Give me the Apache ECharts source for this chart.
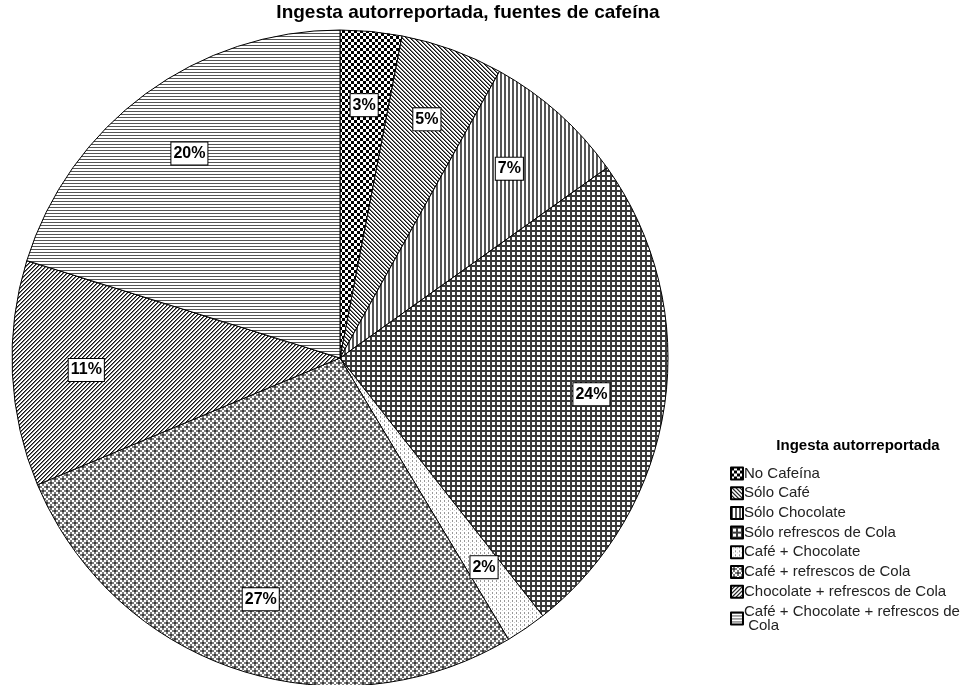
<!DOCTYPE html>
<html>
<head>
<meta charset="utf-8">
<script src="https://cdn.jsdelivr.net/npm/echarts@6/dist/echarts.min.js"></script>
<style>
  html, body { margin: 0; padding: 0; background: #fff; }
  #chart { width: 970px; height: 685px; }
</style>
</head>
<body>
<div id="chart"></div>
<script>
// Self-reported caffeine sources (percent of respondents)
const categories = [
  'No Cafeína',
  'Sólo Café',
  'Sólo Chocolate',
  'Sólo refrescos de Cola',
  'Café + Chocolate',
  'Café + refrescos de Cola',
  'Chocolate + refrescos de Cola',
  'Café + Chocolate + refrescos de Cola'
];
const percents = [3, 5, 7, 24, 2, 27, 11, 20];

const chartTitle = 'Ingesta autorreportada, fuentes de cafeína';
const legendTitle = 'Ingesta autorreportada';

// Monochrome hatch fills, one per category
function pattern(w, h, draw) {
  const c = document.createElement('canvas');
  c.width = w; c.height = h;
  const ctx = c.getContext('2d');
  ctx.fillStyle = '#fff';
  ctx.fillRect(0, 0, w, h);
  draw(ctx);
  return { image: c, repeat: 'repeat' };
}

// wrapped pixel write inside a tile
function px(ctx, x, y, w, h, size) {
  for (let i = 0; i < w; i++) {
    for (let j = 0; j < h; j++) {
      ctx.fillRect((x + i) % size, (y + j) % size, 1, 1);
    }
  }
}

function plusSign(ctx, x, y, size) {
  ctx.fillStyle = '#7a7a7a';
  px(ctx, x, y + 2, 6, 2, size);
  px(ctx, x + 2, y, 2, 6, size);
  ctx.fillStyle = '#3c3c3c';
  px(ctx, x + 2, y + 2, 2, 2, size);
}

const fills = [
  // checkerboard
  pattern(6, 6, ctx => {
    ctx.fillStyle = '#000';
    ctx.fillRect(0, 0, 3, 3);
    ctx.fillRect(3, 3, 3, 3);
  }),
  // back-diagonal lines
  pattern(4, 4, ctx => {
    for (let i = 0; i < 4; i++) {
      ctx.fillStyle = '#111';
      ctx.fillRect(i, i, 1, 1);
      ctx.fillStyle = '#777';
      ctx.fillRect((i + 1) % 4, i, 1, 1);
    }
  }),
  // vertical lines
  pattern(4, 4, ctx => {
    ctx.fillStyle = '#555';
    ctx.fillRect(0, 0, 2, 4);
  }),
  // dense grid
  pattern(5, 5, ctx => {
    ctx.fillStyle = '#3a3a3a';
    ctx.fillRect(0, 0, 5, 2);
    ctx.fillRect(0, 0, 2, 5);
  }),
  // sparse dashes
  pattern(4, 4, ctx => {
    ctx.fillStyle = '#999';
    ctx.fillRect(0, 0, 1, 2);
    ctx.fillStyle = '#ccc';
    ctx.fillRect(2, 2, 1, 1);
  }),
  // staggered plus signs
  pattern(8, 8, ctx => {
    plusSign(ctx, 0, 0, 8);
    plusSign(ctx, 4, 4, 8);
  }),
  // forward-diagonal lines
  pattern(4, 4, ctx => {
    for (let i = 0; i < 4; i++) {
      ctx.fillStyle = '#111';
      ctx.fillRect(3 - i, i, 1, 1);
      ctx.fillStyle = '#777';
      ctx.fillRect((4 - i) % 4, i, 1, 1);
    }
  }),
  // horizontal lines
  pattern(3, 3, ctx => {
    ctx.fillStyle = '#555';
    ctx.fillRect(0, 0, 3, 1);
  })
];

const font = '"Liberation Sans", Arial, sans-serif';

const sliceData = categories.map((name, i) => ({
  name,
  value: percents[i],
  itemStyle: { color: fills[i] }
}));

const labelData = categories.map((name, i) => ({ name, value: percents[i] }));

const chart = echarts.init(document.getElementById('chart'), null, { renderer: 'canvas' });

chart.setOption({
  backgroundColor: '#fff',
  animation: false,
  title: [
    {
      text: chartTitle,
      left: 468,
      top: 3,
      padding: 0,
      textAlign: 'center',
      textStyle: { fontFamily: font, fontSize: 19, fontWeight: 'bold', color: '#000' }
    },
    {
      text: legendTitle,
      left: 858,
      top: 438,
      padding: 0,
      textAlign: 'center',
      textStyle: { fontFamily: font, fontSize: 15, fontWeight: 'bold', color: '#000' }
    }
  ],
  legend: {
    orient: 'vertical',
    left: 725,
    top: 461,
    icon: 'rect',
    itemWidth: 12,
    itemHeight: 12,
    itemGap: 4.7,
    selectedMode: false,
    data: categories,
    textStyle: {
      fontFamily: font,
      fontSize: 15,
      color: '#222',
      padding: [0, 0, 0, -4],
      width: 226,
      overflow: 'break',
      lineHeight: 14
    }
  },
  series: [
    {
      type: 'pie',
      name: 'slices',
      center: [340, 358],
      radius: 328,
      startAngle: 90,
      clockwise: true,
      silent: true,
      data: sliceData,
      itemStyle: { borderColor: '#000', borderWidth: 1 },
      label: { show: false },
      labelLine: { show: false },
      emphasis: { disabled: true }
    },
    {
      // transparent ring that carries the boxed percentage labels
      type: 'pie',
      name: 'labels',
      center: [340, 358],
      radius: [174, 328],
      startAngle: 90,
      clockwise: true,
      silent: true,
      data: labelData,
      itemStyle: { color: 'rgba(0,0,0,0)', borderWidth: 0 },
      label: {
        show: true,
        position: 'inside',
        formatter: '{c}%',
        fontFamily: font,
        fontSize: 16,
        fontWeight: 'bold',
        color: '#000',
        backgroundColor: '#fff',
        borderColor: '#000',
        borderWidth: 1,
        lineHeight: 18,
        padding: [3, 2, 1, 2]
      },
      labelLine: { show: false },
      emphasis: { disabled: true }
    }
  ]
});
</script>
</body>
</html>
